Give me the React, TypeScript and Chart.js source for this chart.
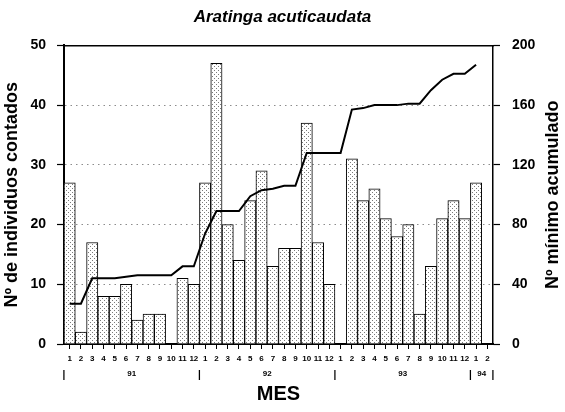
import React, { useEffect, useRef } from 'react';
import { Chart, registerables } from 'chart.js';

Chart.register(...registerables);

// ---- data ----
const monthLabels = [
  '1', '2', '3', '4', '5', '6', '7', '8', '9', '10', '11', '12',
  '1', '2', '3', '4', '5', '6', '7', '8', '9', '10', '11', '12',
  '1', '2', '3', '4', '5', '6', '7', '8', '9', '10', '11', '12',
  '1', '2',
];
const yearLabels = ['91', '92', '93', '94'];
const yearMonthCounts = [12, 12, 12, 2];

const countedIndividuals: (number | null)[] = [
  27, 2, 17, 8, 8, 10, 4, 5, 5, null, 11, 10,
  27, 47, 20, 14, 24, 29, 13, 16, 16, 37, 17, 10,
  null, 31, 24, 26, 21, 18, 20, 5, 13, 21, 24, 21,
  27, null,
];
const minimumCumulative: (number | null)[] = [
  27, 27, 44, 44, 44, 45, 46, 46, 46, 46, 52, 52,
  74, 89, 89, 89, 99, 103, 104, 106, 106, 128, 128, 128,
  128, 157, 158, 160, 160, 160, 161, 161, 170, 177, 181, 181,
  187, null,
];

const chartTitle = 'Aratinga acuticaudata';
const leftAxisTitle = 'Nº de individuos contados';
const rightAxisTitle = 'Nº mínimo acumulado';
const xAxisTitle = 'MES';

const FONT = '"Liberation Sans", Arial, Helvetica, sans-serif';

// year row ticks: separators and centred year labels
const yearTicks: { value: number; label: string }[] = [];
{
  let start = -0.5;
  yearMonthCounts.forEach((n, i) => {
    yearTicks.push({ value: start, label: '|' });
    yearTicks.push({ value: start + n / 2, label: yearLabels[i] });
    start += n;
  });
  yearTicks.push({ value: start, label: '|' });
}

function makePattern(): CanvasPattern | string {
  const c = document.createElement('canvas');
  c.width = 4;
  c.height = 4;
  const g = c.getContext('2d');
  if (!g) return '#eee';
  g.fillStyle = '#ffffff';
  g.fillRect(0, 0, 4, 4);
  g.fillStyle = '#7a7a7a';
  g.fillRect(0, 0, 1, 1);
  g.fillRect(2, 2, 1, 1);
  return g.createPattern(c, 'repeat') || '#eee';
}

const rightTitlePlugin = {
  id: 'rightTitle',
  afterDraw(chart: any) {
    const { ctx, chartArea } = chart;
    ctx.save();
    ctx.translate(chart.width - 12, (chartArea.top + chartArea.bottom) / 2);
    ctx.rotate(-Math.PI / 2);
    ctx.font = `bold 18px ${FONT}`;
    ctx.textAlign = 'center';
    ctx.textBaseline = 'middle';
    ctx.fillStyle = '#000';
    ctx.fillText(rightAxisTitle, 0, 0);
    ctx.restore();
  },
};

export default function App() {
  const ref = useRef<HTMLCanvasElement>(null);

  useEffect(() => {
    document.body.style.margin = '0';
    if (!ref.current) return;
    const pattern = makePattern();
    const tickFont = { family: FONT, size: 14, weight: 'bold' as const };
    const smallFont = { family: FONT, size: 8, weight: 'bold' as const };

    const chart = new Chart(ref.current, {
      type: 'bar',
      data: {
        labels: monthLabels,
        datasets: [
          {
            type: 'line',
            label: rightAxisTitle,
            data: minimumCumulative,
            yAxisID: 'y2',
            xAxisID: 'x',
            borderColor: '#000',
            borderWidth: 2,
            pointRadius: 0,
            tension: 0,
            fill: false,
            order: 0,
          } as any,
          {
            type: 'bar',
            label: leftAxisTitle,
            data: countedIndividuals,
            yAxisID: 'y',
            xAxisID: 'x',
            backgroundColor: pattern as any,
            borderColor: '#000',
            borderWidth: 1,
            barPercentage: 1,
            categoryPercentage: 1,
            order: 1,
          } as any,
        ],
      },
      options: {
        responsive: false,
        animation: false,
        layout: { padding: 0 },
        plugins: {
          legend: { display: false },
          tooltip: { enabled: false },
          title: {
            display: true,
            text: chartTitle,
            color: '#000',
            font: { family: FONT, size: 17, weight: 'bold', style: 'italic' },
            padding: { top: 7, bottom: 18 },
          },
        },
        scales: {
          x: {
            type: 'category',
            position: 'bottom',
            offset: true,
            grid: {
              display: true,
              drawOnChartArea: false,
              offset: false,
              tickLength: 5,
              tickColor: '#000',
              tickWidth: 1,
            },
            border: { display: true, color: '#000', width: 2 },
            ticks: {
              autoSkip: false,
              maxRotation: 0,
              minRotation: 0,
              padding: 5,
              color: '#000',
              font: smallFont,
            },
            afterFit: (s: any) => {
              s.height = 22;
            },
          },
          xYear: {
            type: 'linear',
            position: 'bottom',
            offset: false,
            min: -0.5,
            max: monthLabels.length - 0.5,
            grid: { display: false, drawTicks: false, offset: false },
            border: { display: false },
            afterBuildTicks: (s: any) => {
              s.ticks = yearTicks.map((t) => ({ value: t.value }));
            },
            ticks: {
              autoSkip: false,
              maxRotation: 0,
              minRotation: 0,
              padding: 3,
              color: '#000',
              font: (ctx: any) => {
                const t = yearTicks[ctx.index];
                return t && t.label === '|'
                  ? { family: FONT, size: 10, weight: 'bold' }
                  : smallFont;
              },
              callback: (_v: any, i: number) => (yearTicks[i] ? yearTicks[i].label : ''),
            },
            title: {
              display: true,
              text: xAxisTitle,
              color: '#000',
              font: { family: FONT, size: 20, weight: 'bold' },
              padding: { top: 0, bottom: 6 },
            },
            afterFit: (s: any) => {
              s.height = 46;
            },
          },
          xTop: {
            type: 'linear',
            position: 'top',
            offset: false,
            min: 0,
            max: 1,
            grid: { display: false, drawTicks: false, offset: false },
            ticks: { display: false },
            border: { display: true, color: '#000', width: 1.5 },
            afterFit: (s: any) => {
              s.height = 0;
            },
          },
          y: {
            type: 'linear',
            position: 'left',
            min: 0,
            max: 50,
            ticks: { stepSize: 10, padding: 11, color: '#000', font: tickFont },
            grid: {
              color: (ctx: any) =>
                ctx.tick && (ctx.tick.value === 0 || ctx.tick.value === 50) ? 'rgba(0,0,0,0)' : '#8c8c8c',
              lineWidth: 1,
              tickLength: 7,
              tickColor: '#000',
              tickWidth: 1.2,
            },
            border: { display: true, color: '#000', width: 2, dash: [1.5, 4] },
            title: {
              display: true,
              text: leftAxisTitle,
              color: '#000',
              font: { family: FONT, size: 18, weight: 'bold' },
              padding: { top: 1, bottom: 0 },
            },
            afterFit: (s: any) => {
              s.width = 64;
            },
          },
          y2: {
            type: 'linear',
            position: 'right',
            min: 0,
            max: 200,
            ticks: { stepSize: 40, padding: 12, color: '#000', font: tickFont },
            grid: {
              drawOnChartArea: false,
              tickLength: 7,
              tickColor: '#000',
              tickWidth: 1.2,
            },
            border: { display: true, color: '#000', width: 1.5 },
            afterFit: (s: any) => {
              s.width = 72;
            },
          },
        },
      } as any,
      plugins: [rightTitlePlugin],
    });

    return () => chart.destroy();
  }, []);

  return (
    <div style={{ width: 565, height: 412 }}>
      <canvas ref={ref} width={565} height={412} style={{ display: 'block', width: 565, height: 412 }} />
    </div>
  );
}
